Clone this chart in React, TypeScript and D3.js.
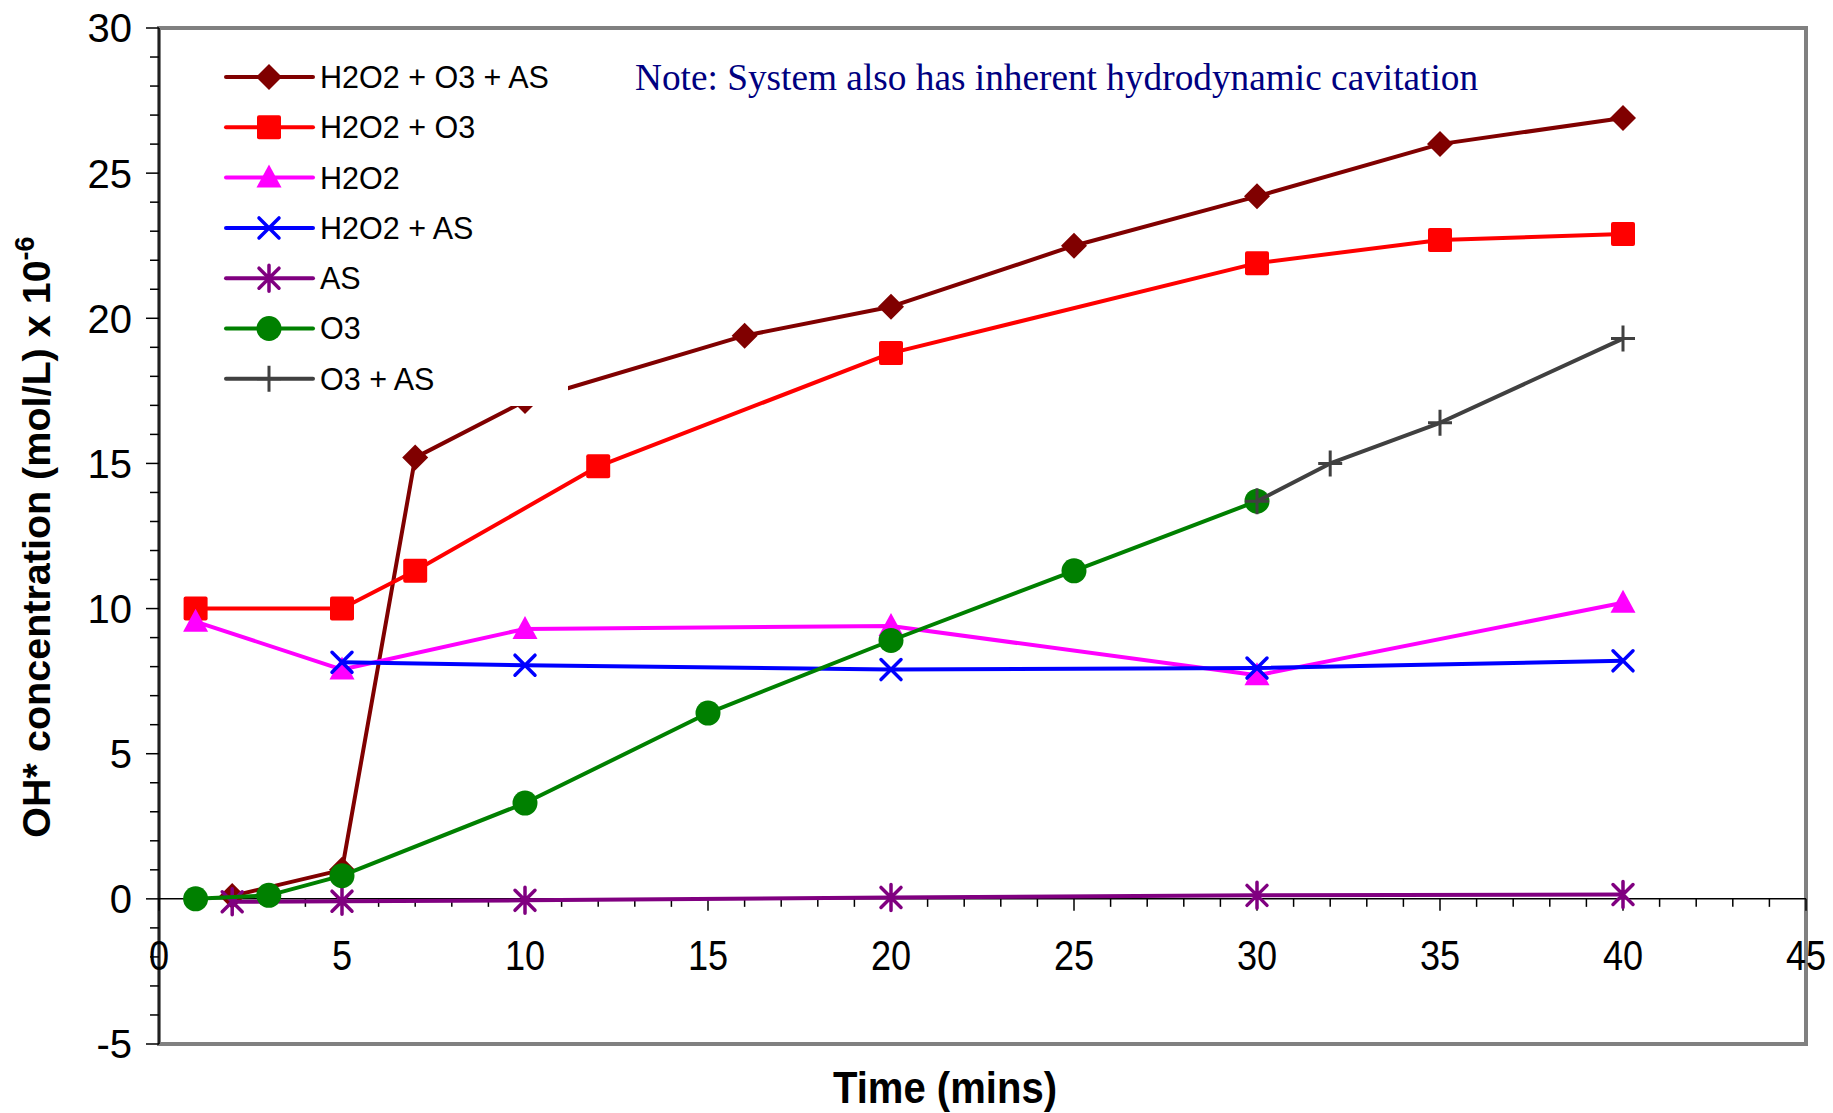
import React from "react";
import * as d3 from "d3";

const W = 1833;
const H = 1113;

const seriesNames = ["H2O2 + O3 + AS", "H2O2 + O3", "H2O2", "H2O2 + AS", "AS", "O3", "O3 + AS"];
const seriesColors = ["#800000", "#FF0000", "#FF00FF", "#0000FF", "#800080", "#008000", "#404040"];
const seriesMarkers = ["diamond", "square", "triangle", "x", "star", "circle", "plus"];

const h2o2O3AsX = [2, 5, 7, 10, 16, 20, 25, 30, 35, 40];
const h2o2O3AsY = [0.1, 1.0, 15.2, 17.15, 19.4, 20.4, 22.5, 24.2, 26.0, 26.9];
const h2o2O3X = [1, 5, 7, 12, 20, 30, 35, 40];
const h2o2O3Y = [10.0, 10.0, 11.3, 14.9, 18.8, 21.9, 22.7, 22.9];
const h2o2X = [1, 5, 10, 20, 30, 40];
const h2o2Y = [9.55, 7.9, 9.3, 9.4, 7.7, 10.2];
const h2o2AsX = [5, 10, 20, 30, 40];
const h2o2AsY = [8.15, 8.05, 7.9, 7.95, 8.2];
const asX = [2, 5, 10, 20, 30, 40];
const asY = [-0.1, -0.08, -0.05, 0.05, 0.12, 0.15];
const o3X = [1, 3, 5, 10, 15, 20, 25, 30];
const o3Y = [0.0, 0.12, 0.8, 3.3, 6.4, 8.9, 11.3, 13.7];
const o3AsX = [30, 32, 35, 40];
const o3AsY = [13.7, 15.0, 16.4, 19.3];

const seriesX = [h2o2O3AsX, h2o2O3X, h2o2X, h2o2AsX, asX, o3X, o3AsX];
const seriesY = [h2o2O3AsY, h2o2O3Y, h2o2Y, h2o2AsY, asY, o3Y, o3AsY];

const xTicks = [0, 5, 10, 15, 20, 25, 30, 35, 40, 45];
const yTicks = [-5, 0, 5, 10, 15, 20, 25, 30];

const noteText = "Note: System also has inherent hydrodynamic cavitation";
const xTitle = "Time (mins)";
const yTitle = "OH* concentration (mol/L) x 10";
const yTitleSup = "-6";

const left = 159;
const right = 1806;
const top = 28;
const bottom = 1044;

function Marker({ type, cx, cy, color }: { type: string; cx: number; cy: number; color: string }) {
  const t = `translate(${cx},${cy})`;
  if (type === "diamond") return <path transform={t} d="M0,-13L13,0L0,13L-13,0Z" fill={color} />;
  if (type === "square") return <rect x={cx - 12} y={cy - 12} width={24} height={24} rx={2} fill={color} />;
  if (type === "triangle") return <path transform={t} d="M0,-13L12.5,10L-12.5,10Z" fill={color} />;
  if (type === "circle") return <circle cx={cx} cy={cy} r={12.5} fill={color} />;
  if (type === "x")
    return <path transform={t} d="M-10,-10L10,10M10,-10L-10,10" stroke={color} strokeWidth={3.5} strokeLinecap="round" fill="none" />;
  if (type === "star")
    return (
      <path transform={t} d="M-10,-10L10,10M10,-10L-10,10M0,-13L0,13" stroke={color} strokeWidth={3.5} strokeLinecap="round" fill="none" />
    );
  if (type === "plus")
    return <path transform={t} d="M-12,0L12,0M0,-13L0,13" stroke={color} strokeWidth={3} fill="none" />;
  return null;
}

export default function App() {
  const x = d3.scaleLinear().domain([0, 45]).range([left, right]);
  const y = d3.scaleLinear().domain([-5, 30]).range([bottom, top]);
  const line = d3
    .line<[number, number]>()
    .x((d) => x(d[0]))
    .y((d) => y(d[1]));

  const xMinor = d3.range(0, 46, 1);
  const yMinor = d3.range(-5, 31, 1);

  const legX0 = 226;
  const legX1 = 313;
  const legMarkX = 269;
  const legTextX = 320;
  const legY0 = 77;
  const legDy = 50.3;

  return (
    <svg width={W} height={H} style={{ position: "absolute", left: 0, top: 0, background: "#fff" }} fontFamily="'Liberation Sans', Arial, sans-serif">
      <rect x={0} y={0} width={W} height={H} fill="#fff" />
      {/* plot frame */}
      <rect x={left} y={top} width={right - left} height={bottom - top} fill="#fff" stroke="#808080" strokeWidth={4} />

      {/* y axis */}
      <line x1={left} x2={left} y1={top} y2={bottom} stroke="#000" strokeWidth={1.5} />
      {yMinor.map((v) => (
        <line key={"ym" + v} x1={left - (v % 5 === 0 ? 13 : 9)} x2={left} y1={y(v)} y2={y(v)} stroke="#000" strokeWidth={1.5} />
      ))}
      {yTicks.map((v) => (
        <text key={"yt" + v} x={132} y={y(v)} dy="0.36em" textAnchor="end" fontSize={40} fill="#000">
          {v}
        </text>
      ))}

      {/* x axis at y=0 */}
      <line x1={left} x2={right} y1={y(0)} y2={y(0)} stroke="#000" strokeWidth={1.5} />
      {xMinor.map((v) => (
        <line key={"xm" + v} x1={x(v)} x2={x(v)} y1={y(0)} y2={y(0) + (v % 5 === 0 ? 12 : 8)} stroke="#000" strokeWidth={1.5} />
      ))}
      {xTicks.map((v) => (
        <text
          key={"xt" + v}
          transform={`translate(${x(v)},${y(0) + 71}) scale(0.86,1)`}
          textAnchor="middle"
          fontSize={42}
          fill="#000"
        >
          {v}
        </text>
      ))}

      {/* series */}
      {seriesNames.map((name, i) => {
        const pts: [number, number][] = seriesX[i].map((xv, j) => [xv, seriesY[i][j]]);
        return (
          <g key={name}>
            <path d={line(pts) || ""} fill="none" stroke={seriesColors[i]} strokeWidth={4} strokeLinejoin="round" />
            {pts.map((p, j) => (
              <Marker key={j} type={seriesMarkers[i]} cx={x(p[0])} cy={y(p[1])} color={seriesColors[i]} />
            ))}
          </g>
        );
      })}

      {/* legend (white background covering lines) */}
      <rect x={215} y={48} width={353} height={358} fill="#fff" />
      {seriesNames.map((name, i) => {
        const ly = legY0 + i * legDy;
        return (
          <g key={"leg" + name}>
            <line x1={legX0} x2={legX1} y1={ly} y2={ly} stroke={seriesColors[i]} strokeWidth={4} strokeLinecap="round" />
            <Marker type={seriesMarkers[i]} cx={legMarkX} cy={ly} color={seriesColors[i]} />
            <text x={legTextX} y={ly} dy="0.36em" fontSize={30.5} fill="#000">
              {name}
            </text>
          </g>
        );
      })}

      {/* note */}
      <text x={635} y={90} fontFamily="'Liberation Serif', 'Times New Roman', serif" fontSize={37.3} fill="#000080">
        {noteText}
      </text>

      {/* axis titles */}
      <text transform={`translate(${945},${1103}) scale(0.9,1)`} textAnchor="middle" fontSize={44.5} fontWeight="bold" fill="#000">
        {xTitle}
      </text>
      <text transform={`translate(${50},${537}) rotate(-90)`} textAnchor="middle" fontSize={39.5} fontWeight="bold" fill="#000">
        {yTitle}
        <tspan dy={-16} fontSize={27}>
          {yTitleSup}
        </tspan>
      </text>
    </svg>
  );
}
